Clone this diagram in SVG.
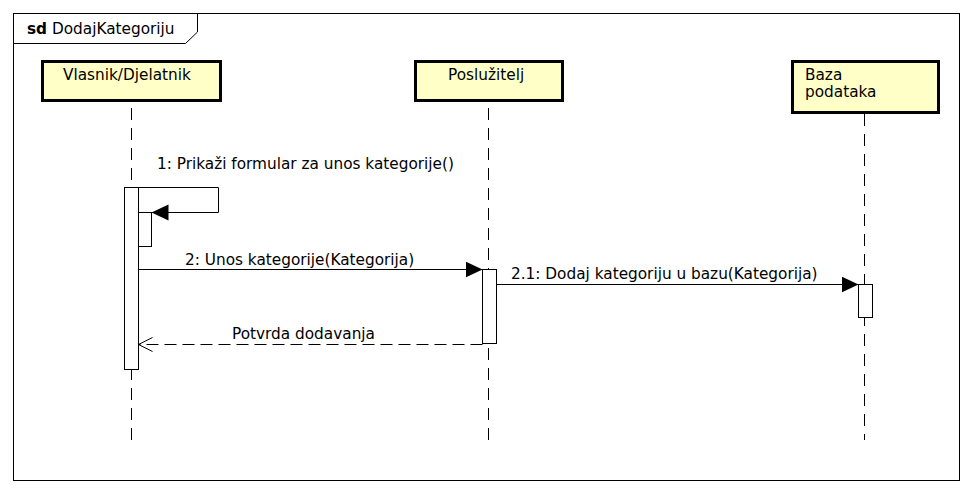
<svg xmlns="http://www.w3.org/2000/svg" width="972" height="493" viewBox="0 0 972 493">
<defs>
<style>
text{font-family:"DejaVu Sans",sans-serif;font-size:15.3px;fill:#000}
.box{fill:#ffffc8;stroke:#000;stroke-width:3}
.life{stroke:#000;stroke-width:1;stroke-dasharray:12 8;fill:none}
.act{fill:#fff;stroke:#000;stroke-width:1}
.msg{stroke:#000;stroke-width:1;fill:none}
.ret{stroke:#000;stroke-width:1;fill:none;stroke-dasharray:12 6}
</style>
<marker id="filled" markerWidth="18" markerHeight="18" refX="17" refY="8" orient="auto" markerUnits="userSpaceOnUse">
<path d="M0,0 L17,8 L0,16 Z" fill="#000"/>
</marker>
<marker id="open" markerWidth="20" markerHeight="20" refX="16" refY="8" orient="auto" markerUnits="userSpaceOnUse">
<path d="M2,1 L16,8 L2,15" fill="none" stroke="#000"/>
</marker>
</defs>
<rect width="972" height="493" fill="#fff"/>
<g id="frame">
<rect x="13.5" y="13.5" width="946" height="467" fill="none" stroke="#000"/>
<path d="M13.5,43.5 H185.5 L197.5,32 V13.5" fill="none" stroke="#000"/>
<text x="27" y="34"><tspan font-weight="bold">sd</tspan> DodajKategoriju</text>
</g>
<g id="lifelines">
<line class="life" x1="131.5" y1="101" x2="131.5" y2="440" stroke-dashoffset="13"/>
<line class="life" x1="488.5" y1="102" x2="488.5" y2="440" stroke-dashoffset="14"/>
<line class="life" x1="864.5" y1="114" x2="864.5" y2="440"/>
</g>
<g id="node-vlasnik">
<rect class="box" x="42.5" y="61.5" width="178" height="39"/>
<text x="63" y="80">Vlasnik/Djelatnik</text>
</g>
<g id="node-posluzitelj">
<rect class="box" x="415.5" y="61.5" width="147" height="39"/>
<text x="448" y="80">Poslužitelj</text>
</g>
<g id="node-baza">
<rect class="box" x="792.5" y="61.5" width="146" height="51"/>
<text x="805" y="80">Baza</text>
<text x="805" y="97">podataka</text>
</g>
<g id="activations">
<rect class="act" x="124.5" y="187.5" width="14" height="182"/>
<rect class="act" x="138.5" y="212.5" width="13" height="34"/>
<rect class="act" x="482.5" y="269.5" width="14" height="74"/>
<rect class="act" x="858.5" y="284.5" width="14" height="33"/>
</g>
<g id="connectors">
<path class="msg" d="M138.5,187.5 H218.5 V212.5 H151.5" marker-end="url(#filled)"/>
<text x="157" y="169">1: Prikaži formular za unos kategorije()</text>
<line class="msg" x1="138.5" y1="269.5" x2="482.5" y2="269.5" marker-end="url(#filled)"/>
<text x="185" y="265">2: Unos kategorije(Kategorija)</text>
<line class="msg" x1="496.5" y1="284.5" x2="858.5" y2="284.5" marker-end="url(#filled)"/>
<text x="511" y="279">2.1: Dodaj kategoriju u bazu(Kategorija)</text>
<line class="ret" x1="482.5" y1="344.5" x2="138.5" y2="344.5" marker-end="url(#open)"/>
<text x="232" y="339">Potvrda dodavanja</text>
</g>
</svg>
